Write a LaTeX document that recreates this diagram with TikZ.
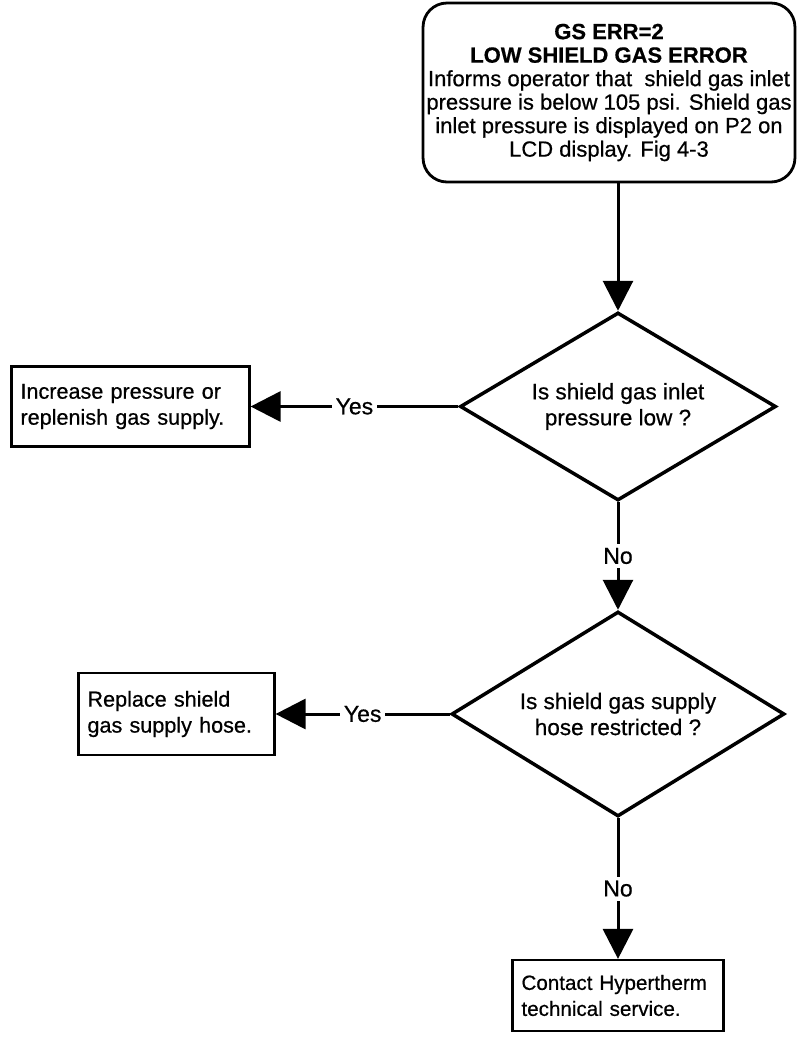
\documentclass[tikz,border=0pt]{standalone}
\usepackage{fontspec}
\setmainfont{Liberation Sans}
\newfontfamily\heavysans[FakeBold=0.6]{Liberation Sans}
\usetikzlibrary{shapes.geometric,arrows.meta,positioning,calc}

\begin{document}
\begin{tikzpicture}[x=1pt,y=-1pt]
            \tikzset{
                errbox/.style={
                    draw,
                    line width=2.8pt,
                    rounded corners=24pt,
                    minimum width=366pt,
                    minimum height=179pt,
                    align=center,
                    font=\heavysans\fontsize{22}{23.5}\selectfont
                }
            }
            \tikzset{
                action/.style={
                    draw,
                    line width=2.2pt,
                    inner xsep=9pt,
                    align=left,
                    font=\heavysans\fontsize{21.6}{26}\selectfont
                }
            }
            \tikzset{
                query/.style={
                    draw,
                    diamond,
                    line width=3.5pt,
                    shape aspect=1.7,
                    inner sep=0pt,
                    align=center,
                    font=\heavysans\fontsize{22.5}{26}\selectfont
                }
            }
            \tikzset{
                flow/.style={
                    line width=3pt,
                    -{Triangle[length=30pt,width=30pt]}
                }
            }
            \tikzset{
                answer/.style={
                    fill=white,
                    inner sep=4pt,
                    font=\heavysans\fontsize{23}{24}\selectfont
                }
            }

            \useasboundingbox (0,0) rectangle (796,1042);

            \node[errbox] (err) at (609,92.5) {\textbf{GS ERR=2}\\
                \textbf{LOW SHIELD GAS ERROR}\\
                Informs operator that~ shield gas inlet\\
                pressure is below 105 psi. Shield gas\\
                inlet pressure is displayed on P2 on\\
                LCD display. Fig 4-3};

            \node[query,minimum width=316pt,minimum height=188pt] (chk1) at (618,406.5) {Is shield gas inlet\\pressure low ?};
            \node[query,minimum width=333pt,minimum height=205pt] (chk2) at (618,714) {Is shield gas supply\\hose restricted ?};

            \node[action,text width=220pt,minimum height=80pt] (fix1) at (130.5,406.5) {Increase pressure or\\replenish gas supply.};
            \node[action,text width=178pt,minimum height=82pt] (fix2) at (176.5,714) {Replace shield\\gas supply hose.};
            \node[action,text width=193pt,minimum height=71pt,font=\heavysans\fontsize{20.6}{26}\selectfont] (call) at (618,995.5) {Contact Hypertherm\\technical service.};

            \draw[flow] (err.south -| chk1.north) -- (chk1.north);
            \draw[flow] (chk1.west) -- node[answer] {Yes} (fix1.east);
            \draw[flow] (chk1.south) -- node[answer] {No} (chk2.north);
            \draw[flow] (chk2.west) -- node[answer] {Yes} (fix2.east);
            \draw[flow] (chk2.south) -- node[answer] {No} (call.north);
        \end{tikzpicture}
\end{document}
